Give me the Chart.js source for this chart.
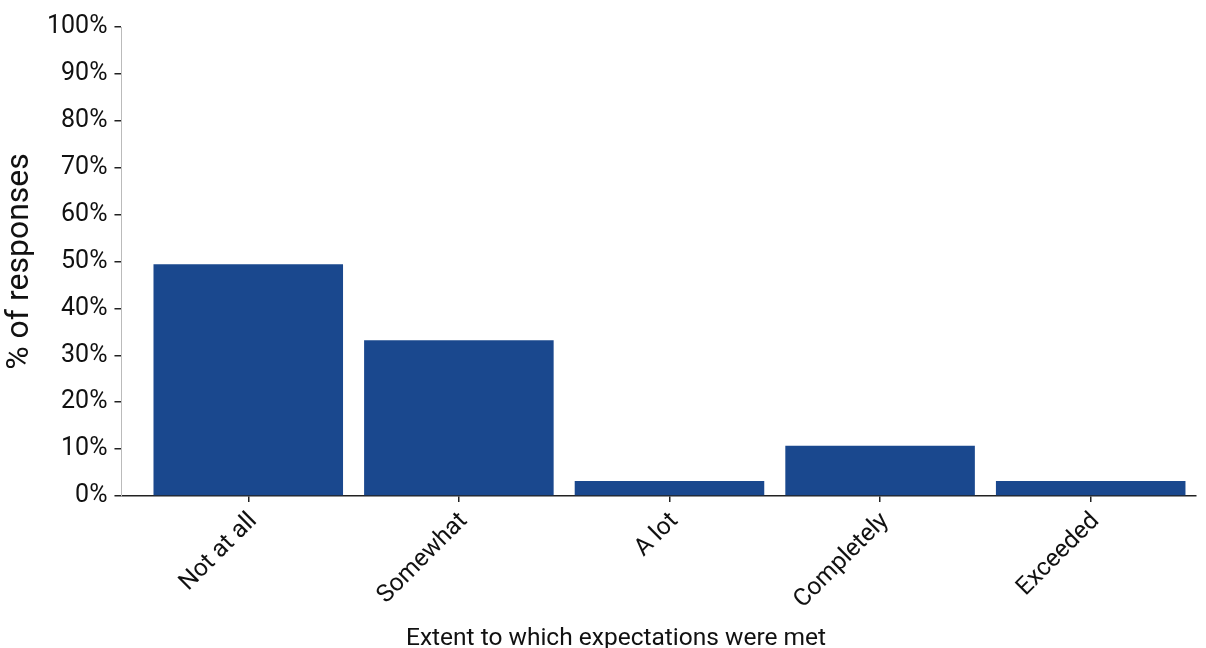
<!DOCTYPE html>
<html>
<head>
<meta charset="utf-8">
<script src="https://cdn.jsdelivr.net/npm/chart.js@4.4.1/dist/chart.umd.min.js"></script>
<style>
html,body{margin:0;padding:0;background:#fff;}
#wrap{width:1206px;height:648px;position:relative;}
</style>
</head>
<body>
<div id="wrap"><canvas id="c" width="1206" height="648"></canvas></div>
<script>
const categories = ["Not at all", "Somewhat", "A lot", "Completely", "Exceeded"];
const percentResponses = [49.4, 33.2, 3.2, 10.7, 3.2];
const yTickValues = [0, 10, 20, 30, 40, 50, 60, 70, 80, 90, 100];
const xTitle = 'Extent to which expectations were met';

Chart.defaults.font.family = "Roboto";
Chart.defaults.color = "#111";

const xTitlePlugin = {
  id: 'xTitlePlugin',
  afterLayout(chart) {
    // leave a gap between the y axis and the first category band
    const xs = chart.scales.x;
    xs._startPixel = xs.left + 21.5;
    xs._length = xs.right - xs._startPixel;
  },
  afterDraw(chart) {
    const ctx = chart.ctx;
    ctx.save();
    ctx.font = '24.5px Roboto';
    ctx.fillStyle = '#111';
    ctx.textAlign = 'center';
    ctx.textBaseline = 'alphabetic';
    ctx.fillText(xTitle, 616, 645);
    ctx.restore();
  }
};

new Chart(document.getElementById('c'), {
  type: 'bar',
  data: {
    labels: categories,
    datasets: [{
      data: percentResponses,
      backgroundColor: '#1A488E',
      borderWidth: 0,
      categoryPercentage: 1.0,
      barPercentage: 0.9
    }]
  },
  options: {
    responsive: false,
    animation: false,
    layout: { padding: { top: 27, right: 10, left: 0, bottom: 0 } },
    plugins: { legend: { display: false }, tooltip: { enabled: false } },
    scales: {
      x: {
        grid: { display: true, offset: false, drawOnChartArea: false, drawTicks: true, tickLength: 6, color: '#222', lineWidth: 1.5 },
        border: { display: true, color: '#222', width: 1.5 },
        ticks: { font: { size: 24.5 }, color: '#111', maxRotation: 45, minRotation: 45, padding: 5, labelOffset: 5 },
        title: { display: true, text: xTitle, font: { size: 24.5, lineHeight: 1.0 }, color: 'rgba(0,0,0,0)', padding: { top: 4, bottom: 0 } }
      },
      y: {
        min: 0, max: 100,
        afterBuildTicks: (axis) => { axis.ticks = yTickValues.map(v => ({ value: v })); },
        grid: { display: true, drawOnChartArea: false, drawTicks: true, tickLength: 7, color: '#222', lineWidth: 1.5 },
        border: { display: true, color: '#bbbbbb', width: 1 },
        ticks: { font: { size: 25 }, color: '#111', padding: 7, callback: (v) => v + '%' },
        title: { display: true, text: '% of responses', font: { size: 32, lineHeight: 1.0 }, color: '#111', padding: { top: 4, bottom: 4 } }
      }
    }
  },
  plugins: [xTitlePlugin]
});
</script>
</body>
</html>
